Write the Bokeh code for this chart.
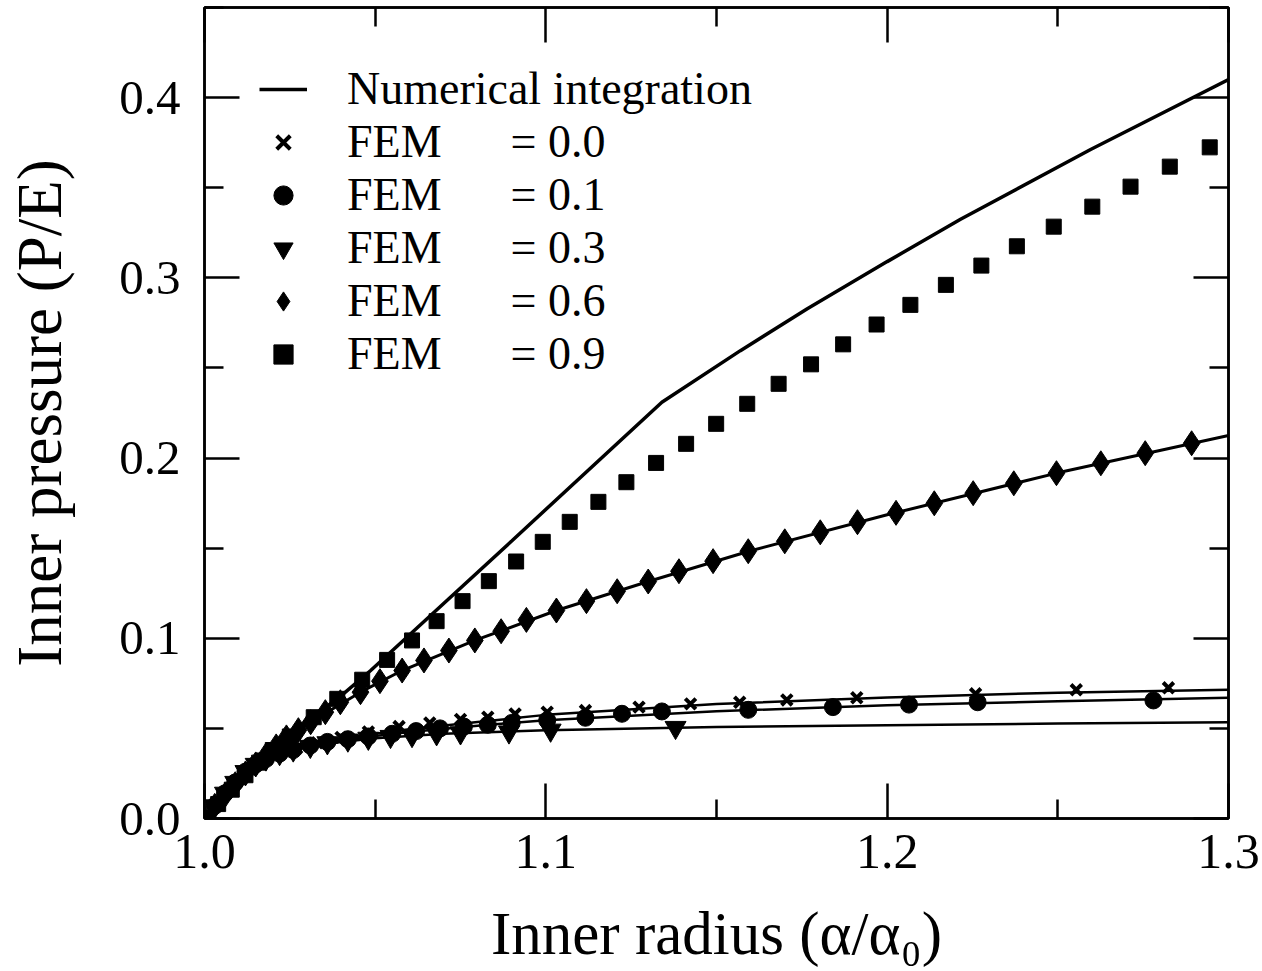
from bokeh.plotting import figure
from bokeh.models import Range1d, FixedTicker, LinearAxis, Legend, LegendItem, PrintfTickFormatter
from bokeh.embed import file_html
from bokeh.resources import INLINE

# ---------------- data ----------------
# Numerical integration curves
num_09_x = [1.0, 1.005, 1.01, 1.02, 1.03, 1.04, 1.0486, 1.09, 1.134, 1.157, 1.1766, 1.20, 1.2215, 1.2596, 1.30]
num_09_y = [0.0, 0.011, 0.021, 0.039, 0.054, 0.068, 0.082, 0.154, 0.231, 0.2596, 0.2828, 0.3090, 0.3325, 0.3712, 0.410]

num_06_x = [1.0, 1.01, 1.02, 1.031, 1.0457, 1.0579, 1.0792, 1.1031, 1.13, 1.16, 1.20, 1.25, 1.30]
num_06_y = [0.0, 0.020, 0.038, 0.0534, 0.0701, 0.0821, 0.0988, 0.1154, 0.1315, 0.1486, 0.1685, 0.1918, 0.2125]

num_00_x = [1.0, 1.005, 1.01, 1.015, 1.02, 1.03, 1.04, 1.06, 1.08, 1.10, 1.15, 1.20, 1.25, 1.30]
num_00_y = [0.0, 0.012, 0.023, 0.030, 0.035, 0.0405, 0.0445, 0.0495, 0.0535, 0.0575, 0.0635, 0.0672, 0.0698, 0.0714]

num_01_x = [1.0, 1.005, 1.01, 1.015, 1.02, 1.03, 1.04, 1.06, 1.08, 1.10, 1.15, 1.20, 1.25, 1.30]
num_01_y = [0.0, 0.012, 0.023, 0.030, 0.035, 0.040, 0.0435, 0.048, 0.0515, 0.0545, 0.0595, 0.0628, 0.065, 0.067]

num_03_x = [1.0, 1.005, 1.01, 1.015, 1.02, 1.03, 1.04, 1.05, 1.07, 1.10, 1.15, 1.20, 1.25, 1.30]
num_03_y = [0.0, 0.012, 0.023, 0.030, 0.035, 0.0395, 0.0425, 0.0445, 0.047, 0.049, 0.0508, 0.0518, 0.0527, 0.0534]

# FEM results
fem_00_x = [1.000, 1.003, 1.006, 1.009, 1.012, 1.015, 1.018, 1.022, 1.027, 1.033, 1.040, 1.048, 1.057,
            1.066, 1.075, 1.083, 1.091, 1.1004, 1.1116, 1.1273, 1.1424, 1.1568, 1.1706, 1.1911, 1.2259,
            1.2554, 1.2824]
fem_00_y = [0.000, 0.007, 0.014, 0.020, 0.026, 0.030, 0.033, 0.036, 0.039, 0.042, 0.045, 0.048, 0.051,
            0.053, 0.055, 0.0562, 0.058, 0.059, 0.0599, 0.0618, 0.0636, 0.0645, 0.0658, 0.0670, 0.0692,
            0.0714, 0.0725]

fem_01_x = [1.000, 1.003, 1.006, 1.009, 1.012, 1.015, 1.018, 1.022, 1.026, 1.031, 1.036, 1.042, 1.048,
            1.055, 1.062, 1.069, 1.076, 1.083, 1.090, 1.1004, 1.1116, 1.1223, 1.1340, 1.1593, 1.1841,
            1.2064, 1.2265, 1.2780]
fem_01_y = [0.000, 0.007, 0.014, 0.020, 0.026, 0.030, 0.033, 0.036, 0.038, 0.0405, 0.0425, 0.044, 0.0455,
            0.047, 0.0485, 0.050, 0.051, 0.052, 0.053, 0.0545, 0.0559, 0.0581, 0.0594, 0.0603, 0.0618,
            0.0632, 0.0645, 0.0655]

fem_03_x = [1.000, 1.003, 1.006, 1.009, 1.012, 1.015, 1.018, 1.022, 1.026, 1.031, 1.036, 1.042, 1.048,
            1.0545, 1.0608, 1.068, 1.075, 1.0892, 1.1014, 1.1380]
fem_03_y = [0.000, 0.007, 0.014, 0.020, 0.026, 0.030, 0.033, 0.036, 0.038, 0.040, 0.042, 0.0435, 0.0445,
            0.0455, 0.046, 0.047, 0.0475, 0.048, 0.049, 0.0505]

fem_06_x = [1.000, 1.003, 1.006, 1.009, 1.012, 1.015, 1.018, 1.021, 1.024, 1.0275, 1.0311, 1.0354, 1.0398,
            1.0457, 1.0514, 1.0579, 1.0643, 1.0716, 1.0792, 1.0869, 1.0943, 1.1031, 1.1119, 1.1209, 1.1300,
            1.1390, 1.1490, 1.1593, 1.1700, 1.1804, 1.1913, 1.2026, 1.2138, 1.2252, 1.2371, 1.2496, 1.2626,
            1.2756, 1.2892]
fem_06_y = [0.000, 0.007, 0.013, 0.019, 0.025, 0.030, 0.035, 0.040, 0.045, 0.049, 0.0534, 0.0590, 0.0645,
            0.0701, 0.0762, 0.0821, 0.0877, 0.0932, 0.0988, 0.1039, 0.1102, 0.1154, 0.1206, 0.1261, 0.1315,
            0.1372, 0.1428, 0.1483, 0.1538, 0.1588, 0.1644, 0.1696, 0.1749, 0.1805, 0.1860, 0.1916, 0.1971,
            0.2027, 0.2082]

fem_09_x = [1.000, 1.004, 1.008, 1.012, 1.016, 1.020, 1.025, 1.032, 1.0389, 1.0462, 1.0535, 1.0608, 1.0680,
            1.0756, 1.0833, 1.0913, 1.0991, 1.1070, 1.1154, 1.1236, 1.1323, 1.1411, 1.1499, 1.1590, 1.1682,
            1.1777, 1.1871, 1.1969, 1.2068, 1.2172, 1.2276, 1.2380, 1.2488, 1.2601, 1.2713, 1.2828, 1.2945]
fem_09_y = [0.000, 0.008, 0.016, 0.024, 0.031, 0.038, 0.0455, 0.0562, 0.0664, 0.0770, 0.0880, 0.0988, 0.1095,
            0.1206, 0.1317, 0.1426, 0.1535, 0.1646, 0.1757, 0.1866, 0.1973, 0.2079, 0.2190, 0.2301, 0.2412,
            0.2520, 0.2631, 0.2741, 0.2850, 0.2961, 0.3068, 0.3175, 0.3284, 0.3395, 0.3506, 0.3617, 0.3724]

x_ticks = [1.0, 1.1, 1.2, 1.3]
x_minor = [1.05, 1.15, 1.25]
y_ticks = [0.0, 0.1, 0.2, 0.3, 0.4]
y_minor = [0.05, 0.15, 0.25, 0.35, 0.45]

GAP = "\u00a0" * 6
legend_labels = ["Numerical integration",
                 "FEM" + GAP + "= 0.0",
                 "FEM" + GAP + "= 0.1",
                 "FEM" + GAP + "= 0.3",
                 "FEM" + GAP + "= 0.6",
                 "FEM" + GAP + "= 0.9"]

x_title = "Inner radius (\u03b1/\u03b1\u2080)"
y_title = "Inner pressure (P/E)"

FONT = "Liberation Serif"

# ---------------- figure ----------------
p = figure(width=1262, height=971,
           x_range=Range1d(1.0, 1.3), y_range=Range1d(0.0, 0.45),
           output_backend="svg", toolbar_location=None,
           min_border_left=204, min_border_right=34, min_border_top=7, min_border_bottom=153)
p.background_fill_color = "white"
p.border_fill_color = "white"
p.grid.visible = False
p.outline_line_color = "black"
p.outline_line_width = 2.5

def style_axis(ax):
    ax.axis_line_color = "black"
    ax.axis_line_width = 2.5
    ax.major_tick_line_color = "black"
    ax.major_tick_line_width = 2.5
    ax.minor_tick_line_color = "black"
    ax.minor_tick_line_width = 2.5
    ax.major_tick_in = 35
    ax.major_tick_out = 0
    ax.minor_tick_in = 19
    ax.minor_tick_out = 0
    ax.major_label_text_font = FONT
    ax.major_label_text_color = "black"
    ax.axis_label_text_font = FONT
    ax.axis_label_text_font_style = "normal"
    ax.axis_label_text_color = "black"

p.xaxis.ticker = FixedTicker(ticks=x_ticks, minor_ticks=x_minor)
p.yaxis.ticker = FixedTicker(ticks=y_ticks, minor_ticks=y_minor)
p.xaxis.formatter = PrintfTickFormatter(format="%.1f")
p.yaxis.formatter = PrintfTickFormatter(format="%.1f")
style_axis(p.xaxis[0])
style_axis(p.yaxis[0])
p.xaxis.major_label_text_font_size = "50px"
p.yaxis.major_label_text_font_size = "49px"
p.xaxis.major_label_standoff = 16
p.yaxis.major_label_standoff = 24
p.xaxis.axis_label = x_title
p.yaxis.axis_label = y_title
p.xaxis.axis_label_text_font_size = "61px"
p.yaxis.axis_label_text_font_size = "63px"
p.xaxis.axis_label_standoff = 29
p.yaxis.axis_label_standoff = 41

top_ax = LinearAxis(ticker=FixedTicker(ticks=x_ticks, minor_ticks=x_minor),
                    major_label_overrides={t: "" for t in x_ticks})
style_axis(top_ax)
top_ax.major_label_standoff = 0
p.add_layout(top_ax, "above")
right_ax = LinearAxis(ticker=FixedTicker(ticks=y_ticks, minor_ticks=y_minor),
                      major_label_overrides={t: "" for t in y_ticks})
style_axis(right_ax)
right_ax.major_label_standoff = 0
p.add_layout(right_ax, "right")

# ---------------- glyphs ----------------
r_num = p.line(num_09_x, num_09_y, line_color="black", line_width=3.5)
p.line(num_06_x, num_06_y, line_color="black", line_width=3)
p.line(num_00_x, num_00_y, line_color="black", line_width=2.5)
p.line(num_01_x, num_01_y, line_color="black", line_width=2.5)
p.line(num_03_x, num_03_y, line_color="black", line_width=2.5)

r00 = p.scatter(fem_00_x, fem_00_y, marker="x", size=15, line_color="black", line_width=4)
r01 = p.scatter(fem_01_x, fem_01_y, marker="circle", size=17, fill_color="black", line_color="black")
r03 = p.scatter(fem_03_x, fem_03_y, marker="inverted_triangle", size=21, fill_color="black", line_color="black")
r06 = p.scatter(fem_06_x, fem_06_y, marker="diamond", size=25, fill_color="black", line_color="black")
r09 = p.scatter(fem_09_x, fem_09_y, marker="square", size=15, fill_color="black", line_color="black")

legend = Legend(items=[
    LegendItem(label=legend_labels[0], renderers=[r_num]),
    LegendItem(label=legend_labels[1], renderers=[r00]),
    LegendItem(label=legend_labels[2], renderers=[r01]),
    LegendItem(label=legend_labels[3], renderers=[r03]),
    LegendItem(label=legend_labels[4], renderers=[r06]),
    LegendItem(label=legend_labels[5], renderers=[r09]),
], location="top_left")
legend.margin = 55
legend.padding = 0
legend.spacing = 0
legend.border_line_alpha = 0
legend.background_fill_alpha = 0
legend.glyph_width = 48
legend.glyph_height = 50
legend.label_height = 50
legend.label_standoff = 40
legend.label_text_font = FONT
legend.label_text_font_size = "46px"
legend.label_text_color = "black"
p.add_layout(legend)

open("out.html", "w").write(file_html(p, INLINE))
